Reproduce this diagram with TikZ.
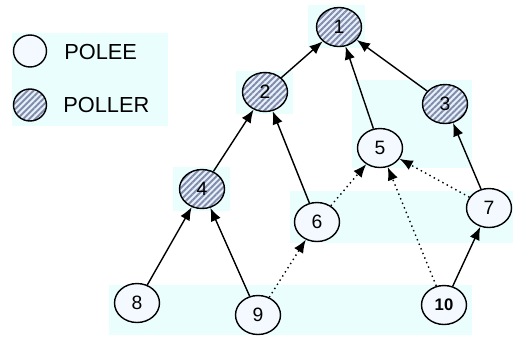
\documentclass[tikz,border=0pt]{standalone}
\usepackage{fontspec}
\setmainfont{Liberation Sans}
\usetikzlibrary{shapes.geometric, patterns.meta, arrows.meta}
\definecolor{zoneBg}{RGB}{235, 254, 254}
\definecolor{poleeFill}{RGB}{243, 249, 255}
\definecolor{pollerFill}{RGB}{232, 240, 250}
\definecolor{pollerHatch}{RGB}{128, 140, 172}

\begin{document}
\begin{tikzpicture} [
        x=0.02cm, y=-0.02cm,
        font=\fontsize{11}{13}\selectfont,
        zone/.style={fill=zoneBg},
        polee/.style={ellipse, draw, line width=0.8pt, fill=poleeFill,
            minimum width=0.9cm, minimum height=0.78cm, inner sep=0pt},
        poller/.style={polee, preaction={fill=pollerFill},
            pattern={Lines[angle=45, distance=2.4pt, line width=1.1pt]},
            pattern color=pollerHatch},
        key/.style={minimum width=0.66cm, minimum height=0.64cm},
        keytext/.style={anchor=west, inner sep=0pt, font=\fontsize{12.4}{14}\selectfont},
        link/.style={-{Latex[length=7.5pt, width=6pt]}, line width=0.8pt},
        weak/.style={link, dotted}
    ]

    \useasboundingbox (0,0) rectangle (513,339);

    % shaded zones
    \fill[zone] (12,33) rectangle (168,126);
    \fill[zone] (308,5) rectangle (365,48);
    \fill[zone] (236,71) rectangle (293,114);
    \fill[zone] (352,80) rectangle (472,168);
    \fill[zone] (173,167) rectangle (230,211);
    \fill[zone] (290,191) rectangle (513,243);
    \fill[zone] (109,285) rectangle (472,335);

    % legend
    \node[polee, key] (key polee) at (30,51) {};
    \node[poller, key] (key poller) at (30,105) {};
    \node[keytext] (key polee text) at (64,52) {POLEE};
    \node[keytext] (key poller text) at (63,105) {POLLER};

    % tree
    \node[poller] (n1) at (339,27) {1};
    \node[poller] (n2) at (265,92) {2};
    \node[poller] (n3) at (445,104) {3};
    \node[poller] (n4) at (202,189) {4};
    \node[polee] (n5) at (380,148) {5};
    \node[polee] (n6) at (317,222) {6};
    \node[polee] (n7) at (489,208) {7};
    \node[polee] (n8) at (137,303) {8};
    \node[polee] (n9) at (258,315) {9};
    \node[polee, font=\fontsize{9.5}{11}\selectfont\bfseries] (n10) at (444,305) {10};

    \foreach \a/\b in {2/1, 5/1, 3/1, 4/2, 6/2, 8/4, 9/4, 7/3, 10/7}
        \draw[link] (n\a) -- (n\b);

    \foreach \a/\b in {9/6, 6/5, 7/5, 10/5}
        \draw[weak] (n\a) -- (n\b);

\end{tikzpicture}
\end{document}
